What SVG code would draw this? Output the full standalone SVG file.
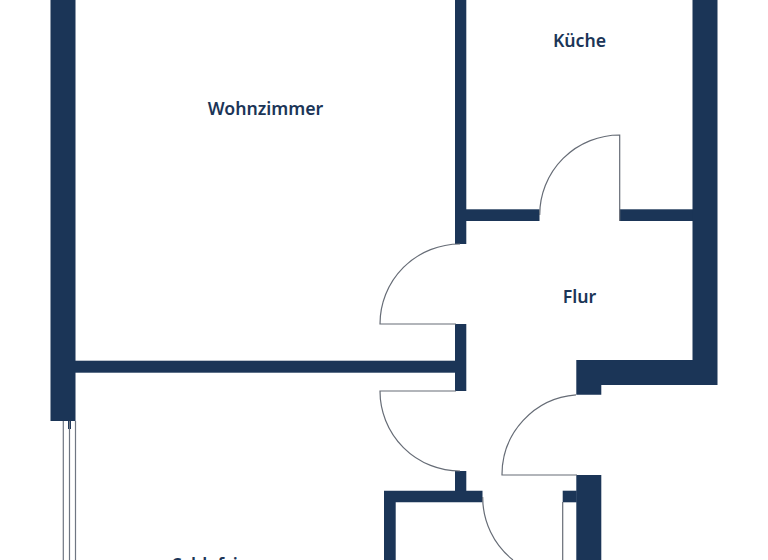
<svg xmlns="http://www.w3.org/2000/svg" width="768" height="560" viewBox="0 0 768 560">
<style>
.wall{fill:#1b3557;stroke:none}
.line{fill:none;stroke:#666c76;stroke-width:1.2}
.win{fill:none;stroke:#6f7682;stroke-width:1.2}
text{font-family:"Noto Sans",sans-serif;font-size:17.7px;font-weight:600;fill:#1b3557;text-anchor:middle}
</style>
<rect width="768" height="560" fill="#ffffff"/>
<g id="walls">
<rect class="wall" x="50.5" y="0" width="25" height="421"/>
<rect class="wall" x="75" y="360.7" width="381" height="12"/>
<rect class="wall" x="455" y="0" width="11.3" height="244"/>
<rect class="wall" x="455" y="324" width="11.3" height="67"/>
<rect class="wall" x="455" y="471" width="11.3" height="25"/>
<rect class="wall" x="466" y="209.3" width="73.5" height="11.7"/>
<rect class="wall" x="619.7" y="209.3" width="74" height="11.7"/>
<path class="wall" d="M692.5 0H717.5V385H601.3V394.7H576.3V360H692.5Z"/>
<path class="wall" d="M384 560V490.7H482.5V502.3H395.7V560Z"/>
<rect class="wall" x="576.3" y="475" width="25" height="85"/>
<rect class="wall" x="562.7" y="490.7" width="14" height="11.6"/>
<rect class="wall" x="68" y="421" width="3" height="8"/>
</g>
<g id="connectors">
<path class="line" d="M619.7 221V135A80 80 0 0 0 539.7 215"/>
<path class="line" d="M456 324H380A80 80 0 0 1 460 244"/>
<path class="line" d="M456 391H380A80 80 0 0 0 460 471"/>
<path class="line" d="M577 475H502A80 80 0 0 1 576 394.8"/>
<path class="line" d="M562.7 560V502"/>
<path class="line" d="M482.7 497A80 80 0 0 0 513 560"/>
<path class="win" d="M63.3 421V560M69.5 421V560M75.5 421V560"/>
</g>
<g id="wohnzimmer"><text x="265.5" y="114.5">Wohnzimmer</text></g>
<g id="kueche"><text x="579.5" y="46.5">Küche</text></g>
<g id="flur"><text x="579.5" y="302.5">Flur</text></g>
<g id="schlafzimmer"><text x="231" y="571">Schlafzimmer</text></g>
</svg>
